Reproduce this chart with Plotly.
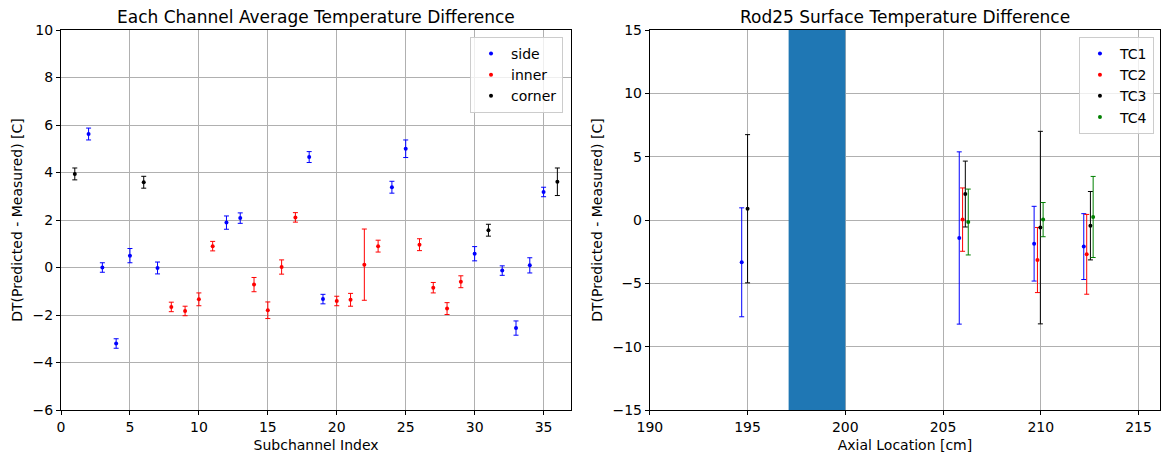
import plotly.graph_objects as go
from plotly.subplots import make_subplots

# ---- Left panel data ----
side_x = [2, 3, 4, 5, 7, 12, 13, 18, 19, 24, 25, 30, 32, 33, 34, 35]
side_y = [5.62, 0.0, -3.2, 0.5, -0.02, 1.89, 2.08, 4.65, -1.33, 3.38, 5.0, 0.58, -0.13, -2.55, 0.09, 3.18]
side_e = [0.25, 0.2, 0.2, 0.3, 0.25, 0.28, 0.22, 0.23, 0.2, 0.25, 0.37, 0.3, 0.2, 0.3, 0.32, 0.2]

inner_x = [8, 9, 10, 11, 14, 15, 16, 17, 20, 21, 22, 23, 26, 27, 28, 29]
inner_y = [-1.66, -1.83, -1.34, 0.9, -0.72, -1.8, 0.02, 2.11, -1.41, -1.36, 0.12, 0.9, 0.96, -0.85, -1.73, -0.6]
inner_e = [0.2, 0.2, 0.27, 0.2, 0.3, 0.35, 0.3, 0.2, 0.2, 0.27, 1.5, 0.25, 0.25, 0.22, 0.25, 0.25]

corner_x = [1, 6, 31, 36]
corner_y = [3.94, 3.59, 1.57, 3.61]
corner_e = [0.25, 0.25, 0.25, 0.58]

# ---- Right panel data ----
tc1_x = [194.7, 205.83, 209.66, 212.2]
tc1_y = [-3.34, -1.42, -1.87, -2.1]
tc1_e = [4.3, 6.8, 2.95, 2.6]

tc2_x = [206.0, 209.83, 212.35]
tc2_y = [0.03, -3.16, -2.71]
tc2_e = [2.5, 2.57, 3.15]

tc3_x = [195.0, 206.14, 209.98, 212.54]
tc3_y = [0.89, 2.05, -0.6, -0.45]
tc3_e = [5.85, 2.6, 7.6, 2.7]

tc4_x = [206.29, 210.12, 212.68]
tc4_y = [-0.16, 0.03, 0.24]
tc4_e = [2.6, 1.35, 3.2]

span_x0, span_x1 = 197.1, 200.0

FONT = "DejaVu Sans"

fig = make_subplots(rows=1, cols=2, horizontal_spacing=0.0716,
                    subplot_titles=("Each Channel Average Temperature Difference",
                                    "Rod25 Surface Temperature Difference"))

def eb(x, y, e, color, name, row, col, legend):
    fig.add_trace(go.Scatter(
        x=x, y=y, mode="markers", name=name, legend=legend,
        marker=dict(color=color, size=4),
        error_y=dict(type="data", array=e, color=color, thickness=1, width=2.5),
    ), row=row, col=col)

fig.add_hline(y=0, line=dict(color="#1f77b4", width=2), row=1, col=1)

eb(side_x, side_y, side_e, "blue", "side", 1, 1, "legend")
eb(inner_x, inner_y, inner_e, "red", "inner", 1, 1, "legend")
eb(corner_x, corner_y, corner_e, "black", "corner", 1, 1, "legend")

eb(tc1_x, tc1_y, tc1_e, "blue", "TC1", 1, 2, "legend2")
eb(tc2_x, tc2_y, tc2_e, "red", "TC2", 1, 2, "legend2")
eb(tc3_x, tc3_y, tc3_e, "black", "TC3", 1, 2, "legend2")
eb(tc4_x, tc4_y, tc4_e, "green", "TC4", 1, 2, "legend2")

fig.add_vrect(x0=span_x0, x1=span_x1, fillcolor="#1f77b4", opacity=1,
              line_width=0, layer="above", row=1, col=2)

axcommon = dict(showline=True, linecolor="black", linewidth=1, mirror=True,
                ticks="outside", ticklen=4, tickcolor="black",
                showgrid=True, gridcolor="#b0b0b0", gridwidth=1,
                zeroline=False, tickfont=dict(size=14, color="black"),
                title_font=dict(size=14, color="black"), automargin=False)

fig.update_xaxes(**axcommon)
fig.update_yaxes(**axcommon)

fig.update_xaxes(range=[0, 37], tickvals=[0, 5, 10, 15, 20, 25, 30, 35],
                 title_text="Subchannel Index", title_standoff=6, row=1, col=1)
fig.update_yaxes(range=[-6, 10], tickvals=list(range(-6, 11, 2)),
                 title_text="DT(Predicted - Measured) [C]",
                 title_standoff=6, row=1, col=1)
fig.update_xaxes(range=[190, 216.1], tickvals=[190, 195, 200, 205, 210, 215],
                 title_text="Axial Location [cm]", title_standoff=6, row=1, col=2)
fig.update_yaxes(range=[-15, 15], tickvals=list(range(-15, 16, 5)),
                 title_text="DT(Predicted - Measured) [C]", title_standoff=6,
                 row=1, col=2)

for ann in fig.layout.annotations:
    ann.font = dict(size=17, color="black", family=FONT)
    ann.yshift = 1

legend_style = dict(bgcolor="rgba(255,255,255,0.8)", bordercolor="#cccccc",
                    borderwidth=1, font=dict(size=14, color="black", family=FONT),
                    xanchor="right", yanchor="top", itemsizing="trace")

# page body has an 8px default margin; compensate so plot areas land where intended
fig.update_layout(
    width=1162, height=452,
    margin=dict(l=53, r=10, t=22, b=50),
    paper_bgcolor="white", plot_bgcolor="white",
    font=dict(family=FONT, size=14, color="black"),
    legend=dict(x=0.4568, y=0.982, **legend_style),
    legend2=dict(x=0.9945, y=0.982, **legend_style),
    showlegend=True,
)

fig.write_html("out.html")
